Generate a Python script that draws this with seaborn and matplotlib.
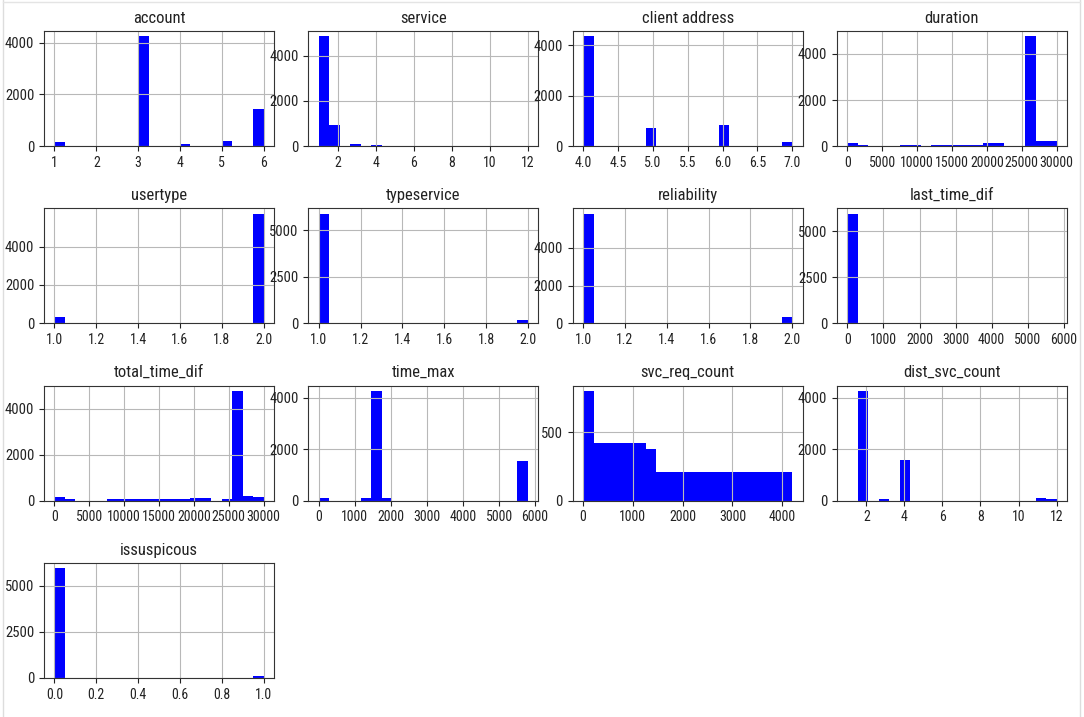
import numpy as np
import pandas as pd
import matplotlib
matplotlib.use("Agg")
import matplotlib.pyplot as plt
from matplotlib import font_manager as fm
import seaborn as sns

# ---------------- data (20-bin histogram counts) ----------------
columns = ["account", "service", "client address", "duration",
           "usertype", "typeservice", "reliability", "last_time_dif",
           "total_time_dif", "time_max", "svc_req_count", "dist_svc_count",
           "issuspicous"]

account_range = [1, 6]
account_counts = [154, 0, 0, 0, 0, 0, 0, 0, 4244, 0, 0, 0, 64, 0, 0, 0, 192, 0, 0, 1436]
account_xticks = [1, 2, 3, 4, 5, 6]
account_yticks = [0, 2000, 4000]

service_range = [1, 12]
service_counts = [4847, 934, 0, 75, 0, 65, 0, 0, 0, 0, 0, 0, 0, 0, 0, 0, 0, 0, 0, 10]
service_xticks = [2, 4, 6, 8, 10, 12]
service_yticks = [0, 2000, 4000]

client_address_range = [4, 7]
client_address_counts = [4340, 0, 0, 0, 0, 0, 732, 0, 0, 0, 0, 0, 0, 837, 0, 0, 0, 0, 0, 144]
client_address_xticks = [4.0, 4.5, 5.0, 5.5, 6.0, 6.5, 7.0]
client_address_yticks = [0, 2000, 4000]

duration_range = [0, 30000]
duration_counts = [130, 57, 0, 0, 0, 60, 60, 0, 55, 55, 55, 55, 55, 120, 120, 0, 0, 4760, 210, 210]
duration_xticks = [0, 5000, 10000, 15000, 20000, 25000, 30000]
duration_yticks = [0, 2000, 4000]

usertype_range = [1, 2]
usertype_counts = [328, 0, 0, 0, 0, 0, 0, 0, 0, 0, 0, 0, 0, 0, 0, 0, 0, 0, 0, 5707]
usertype_xticks = [1.0, 1.2, 1.4, 1.6, 1.8, 2.0]
usertype_yticks = [0, 2000, 4000]

typeservice_range = [1, 2]
typeservice_counts = [5890, 0, 0, 0, 0, 0, 0, 0, 0, 0, 0, 0, 0, 0, 0, 0, 0, 0, 0, 160]
typeservice_xticks = [1.0, 1.2, 1.4, 1.6, 1.8, 2.0]
typeservice_yticks = [0, 2500, 5000]

reliability_range = [1, 2]
reliability_counts = [5790, 0, 0, 0, 0, 0, 0, 0, 0, 0, 0, 0, 0, 0, 0, 0, 0, 0, 0, 316]
reliability_xticks = [1.0, 1.2, 1.4, 1.6, 1.8, 2.0]
reliability_yticks = [0, 2000, 4000]

last_time_dif_range = [0, 5800]
last_time_dif_counts = [5953, 20, 8, 5, 4, 3, 3, 2, 2, 2, 2, 1, 1, 1, 1, 1, 1, 1, 1, 1]
last_time_dif_xticks = [0, 1000, 2000, 3000, 4000, 5000, 6000]
last_time_dif_yticks = [0, 2500, 5000]

total_time_dif_range = [0, 30000]
total_time_dif_counts = [160, 60, 0, 0, 0, 55, 55, 55, 55, 55, 55, 55, 55, 115, 115, 0, 70, 4777, 215, 170]
total_time_dif_xticks = [0, 5000, 10000, 15000, 20000, 25000, 30000]
total_time_dif_yticks = [0, 2000, 4000]

time_max_range = [0, 5800]
time_max_counts = [115, 0, 0, 0, 100, 4256, 100, 0, 0, 0, 0, 0, 0, 0, 0, 0, 0, 0, 0, 1526]
time_max_xticks = [0, 1000, 2000, 3000, 4000, 5000, 6000]
time_max_yticks = [0, 2000, 4000]

svc_req_count_range = [0, 4200]
svc_req_count_counts = [798, 418, 418, 418, 418, 418, 377, 212, 212, 212, 212, 212, 212, 212,
                        212, 212, 212, 212, 212, 212]
svc_req_count_xticks = [0, 1000, 2000, 3000, 4000]
svc_req_count_yticks = [0, 500]

dist_svc_count_range = [1, 12]
dist_svc_count_counts = [0, 4256, 0, 64, 0, 1577, 0, 0, 0, 0, 0, 0, 0, 0, 0, 0, 0, 0, 115, 64]
dist_svc_count_xticks = [2, 4, 6, 8, 10, 12]
dist_svc_count_yticks = [0, 2000, 4000]

issuspicous_range = [0, 1]
issuspicous_counts = [5953, 0, 0, 0, 0, 0, 0, 0, 0, 0, 0, 0, 0, 0, 0, 0, 0, 0, 0, 90]
issuspicous_xticks = [0.0, 0.2, 0.4, 0.6, 0.8, 1.0]
issuspicous_yticks = [0, 2500, 5000]

ranges = [account_range, service_range, client_address_range, duration_range,
          usertype_range, typeservice_range, reliability_range, last_time_dif_range,
          total_time_dif_range, time_max_range, svc_req_count_range, dist_svc_count_range,
          issuspicous_range]
counts = [account_counts, service_counts, client_address_counts, duration_counts,
          usertype_counts, typeservice_counts, reliability_counts, last_time_dif_counts,
          total_time_dif_counts, time_max_counts, svc_req_count_counts, dist_svc_count_counts,
          issuspicous_counts]
xticks = [account_xticks, service_xticks, client_address_xticks, duration_xticks,
          usertype_xticks, typeservice_xticks, reliability_xticks, last_time_dif_xticks,
          total_time_dif_xticks, time_max_xticks, svc_req_count_xticks, dist_svc_count_xticks,
          issuspicous_xticks]
yticks = [account_yticks, service_yticks, client_address_yticks, duration_yticks,
          usertype_yticks, typeservice_yticks, reliability_yticks, last_time_dif_yticks,
          total_time_dif_yticks, time_max_yticks, svc_req_count_yticks, dist_svc_count_yticks,
          issuspicous_yticks]

# ---------------- font: a narrow sans if one is installed ----------------
installed = {f.name for f in fm.fontManager.ttflist}
narrow_candidates = ["Liberation Sans Narrow", "Roboto Condensed", "PT Sans Narrow",
                     "Archivo Narrow", "Pragati Narrow", "Open Sans Condensed"]
chosen = [n for n in narrow_candidates if n in installed][:1]
plt.rcParams["font.family"] = chosen + ["DejaVu Sans"]
plt.rcParams["xtick.labelsize"] = 10
plt.rcParams["ytick.labelsize"] = 10.5
plt.rcParams["xtick.color"] = "#222222"
plt.rcParams["ytick.color"] = "#222222"

# ---------------- plot ----------------
fig, axes = plt.subplots(4, 4, figsize=(10.84, 7.17), dpi=100)
fig.subplots_adjust(left=44 / 1084, right=1067 / 1084, top=1 - 31 / 717,
                    bottom=1 - 678 / 717, wspace=0.149, hspace=0.54)

for i, ax in enumerate(axes.flat):
    if i >= len(columns):
        ax.set_visible(False)
        continue
    lo, hi = ranges[i]
    edges = np.linspace(lo, hi, 21)
    df = pd.DataFrame({"value": (edges[:-1] + edges[1:]) / 2,
                       "count": np.asarray(counts[i], dtype=float)})
    sns.histplot(data=df, x="value", weights="count", bins=edges.tolist(), ax=ax,
                 color="blue", alpha=1, linewidth=0, element="bars")
    ax.set_xticks(xticks[i])
    ax.set_yticks(yticks[i])
    ax.set_title(columns[i], fontsize=12, color="#222222")
    ax.set_xlabel("")
    ax.set_ylabel("")
    ax.grid(True, color="#b8b8b8", linewidth=0.8)
    for sp in ax.spines.values():
        sp.set_edgecolor("#333333")

# light screenshot border
for xx in (3 / 1084, 1080 / 1084):
    fig.add_artist(plt.Line2D([xx, xx], [0, 1], transform=fig.transFigure,
                              color="#dddddd", linewidth=1))
fig.add_artist(plt.Line2D([3 / 1084, 1080 / 1084], [1 - 1.5 / 717, 1 - 1.5 / 717],
                          transform=fig.transFigure, color="#e4e4e4", linewidth=1))

fig.savefig("out.png", dpi=100)
